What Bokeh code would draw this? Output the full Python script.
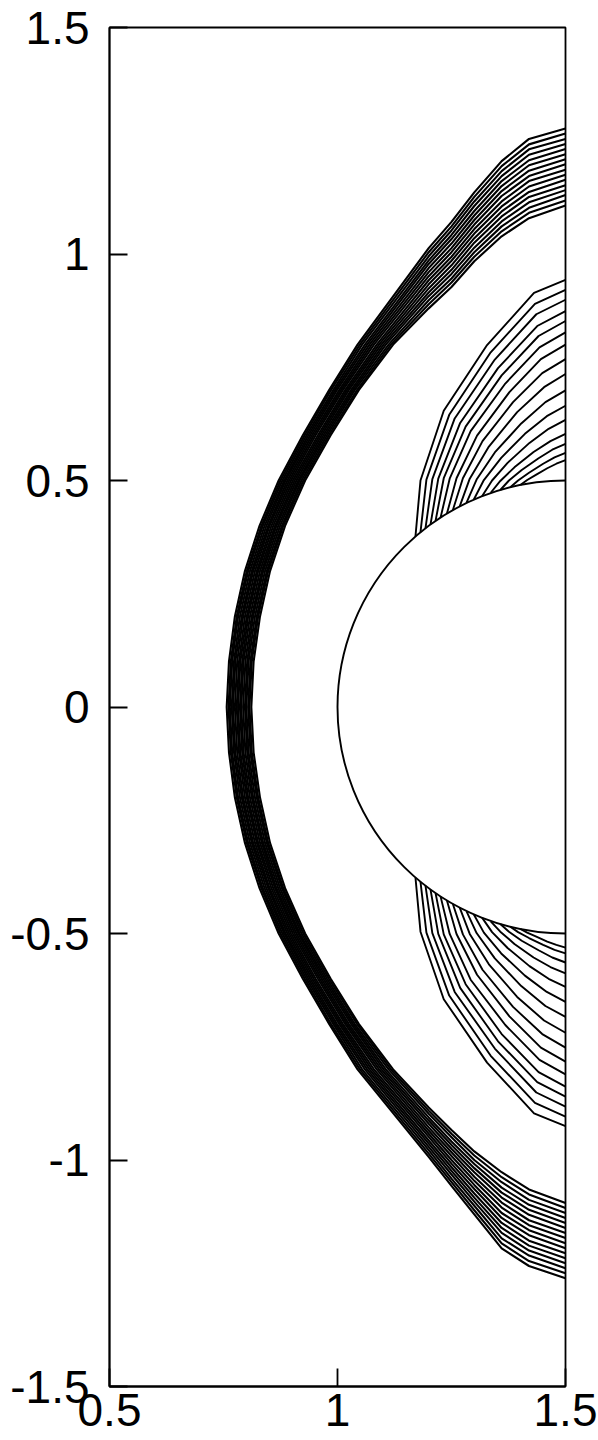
from bokeh.plotting import figure
from bokeh.models import FixedTicker, CustomJSTickFormatter, Range1d, ColumnDataSource
from bokeh.embed import file_html
from bokeh.resources import INLINE

# ---------------- data ----------------
X_TICKS = [0.5, 1.0, 1.5]
Y_TICKS = [-1.5, -1.0, -0.5, 0.0, 0.5, 1.0, 1.5]

# body: half cylinder centred at (1.5, 0), diameter 1
BODY_X = [1.5]
BODY_Y = [0.0]
BODY_D = [1.0]

# bow-shock contour band: 16 lines (outer -> inner)
# x of each line at these y stations (band symmetric about y = 0)
SHOCK_STATION_Y = [0.0, 0.1, 0.2, 0.3, 0.4, 0.5, 0.6, 0.7, 0.8]
shock_x_at_station = [
    [0.757, 0.761, 0.764, 0.768, 0.771, 0.775, 0.779, 0.782, 0.786, 0.789, 0.793, 0.797, 0.800, 0.804, 0.807, 0.811],
    [0.762, 0.766, 0.769, 0.773, 0.776, 0.780, 0.784, 0.787, 0.791, 0.794, 0.798, 0.802, 0.805, 0.809, 0.812, 0.816],
    [0.775, 0.779, 0.782, 0.786, 0.790, 0.793, 0.797, 0.801, 0.804, 0.808, 0.812, 0.815, 0.819, 0.823, 0.826, 0.830],
    [0.797, 0.801, 0.804, 0.808, 0.812, 0.815, 0.819, 0.823, 0.826, 0.830, 0.834, 0.837, 0.841, 0.845, 0.848, 0.852],
    [0.829, 0.833, 0.836, 0.840, 0.844, 0.848, 0.851, 0.855, 0.859, 0.863, 0.866, 0.870, 0.874, 0.878, 0.881, 0.885],
    [0.871, 0.875, 0.879, 0.883, 0.886, 0.890, 0.894, 0.898, 0.902, 0.906, 0.910, 0.914, 0.917, 0.921, 0.925, 0.929],
    [0.924, 0.928, 0.932, 0.936, 0.940, 0.944, 0.948, 0.952, 0.957, 0.961, 0.965, 0.969, 0.973, 0.977, 0.981, 0.985],
    [0.982, 0.986, 0.991, 0.995, 0.999, 1.004, 1.008, 1.012, 1.017, 1.021, 1.025, 1.030, 1.034, 1.038, 1.043, 1.047],
    [1.044, 1.049, 1.054, 1.060, 1.065, 1.070, 1.075, 1.080, 1.086, 1.091, 1.096, 1.101, 1.106, 1.112, 1.117, 1.122],
]
# tails of the band towards the right edge: y of each line at these x stations
SHOCK_TAIL_X = [1.2, 1.25, 1.3, 1.36, 1.42, 1.5]
shock_tail_upper_y = [
    [1.013, 1.004, 0.995, 0.986, 0.978, 0.969, 0.960, 0.951, 0.942, 0.933, 0.924, 0.915, 0.907, 0.898, 0.889, 0.880],
    [1.071, 1.061, 1.052, 1.042, 1.033, 1.023, 1.013, 1.004, 0.994, 0.985, 0.975, 0.965, 0.956, 0.946, 0.937, 0.927],
    [1.136, 1.126, 1.116, 1.106, 1.095, 1.085, 1.075, 1.065, 1.055, 1.045, 1.035, 1.025, 1.014, 1.004, 0.994, 0.984],
    [1.205, 1.194, 1.183, 1.172, 1.161, 1.150, 1.139, 1.128, 1.116, 1.105, 1.094, 1.083, 1.072, 1.061, 1.050, 1.039],
    [1.254, 1.242, 1.231, 1.219, 1.207, 1.196, 1.184, 1.172, 1.161, 1.149, 1.137, 1.126, 1.114, 1.102, 1.091, 1.079],
    [1.277, 1.266, 1.254, 1.243, 1.232, 1.220, 1.209, 1.198, 1.186, 1.175, 1.164, 1.152, 1.141, 1.130, 1.118, 1.107],
]
shock_tail_lower_y = [
    [-0.993, -0.986, -0.978, -0.971, -0.964, -0.957, -0.949, -0.942, -0.935, -0.928, -0.920, -0.913, -0.906, -0.898, -0.891, -0.884],
    [-1.057, -1.049, -1.041, -1.032, -1.024, -1.016, -1.008, -1.000, -0.991, -0.983, -0.975, -0.967, -0.959, -0.950, -0.942, -0.934],
    [-1.120, -1.111, -1.101, -1.092, -1.083, -1.074, -1.064, -1.055, -1.046, -1.037, -1.027, -1.018, -1.009, -1.000, -0.990, -0.981],
    [-1.195, -1.184, -1.173, -1.161, -1.150, -1.139, -1.128, -1.117, -1.105, -1.094, -1.083, -1.072, -1.061, -1.049, -1.038, -1.027],
    [-1.234, -1.223, -1.211, -1.200, -1.189, -1.178, -1.166, -1.155, -1.144, -1.133, -1.121, -1.110, -1.099, -1.088, -1.076, -1.065],
    [-1.261, -1.250, -1.239, -1.228, -1.217, -1.206, -1.195, -1.184, -1.172, -1.161, -1.150, -1.139, -1.128, -1.117, -1.106, -1.095],
]

# expansion-fan contours behind the shoulder (16 lines each side, outer -> inner)
FAN_X = [
    [1.171, 1.182, 1.233, 1.328, 1.431, 1.5],
    [1.182, 1.195, 1.245, 1.336, 1.433, 1.5],
    [1.193, 1.208, 1.257, 1.345, 1.436, 1.5],
    [1.204, 1.221, 1.269, 1.352, 1.438, 1.5],
    [1.215, 1.233, 1.281, 1.360, 1.441, 1.5],
    [1.226, 1.246, 1.292, 1.368, 1.443, 1.5],
    [1.240, 1.261, 1.306, 1.377, 1.446, 1.5],
    [1.253, 1.275, 1.318, 1.385, 1.449, 1.5],
    [1.268, 1.290, 1.332, 1.394, 1.453, 1.5],
    [1.283, 1.305, 1.345, 1.403, 1.456, 1.5],
    [1.299, 1.321, 1.359, 1.411, 1.459, 1.5],
    [1.317, 1.339, 1.373, 1.421, 1.463, 1.5],
    [1.336, 1.357, 1.388, 1.430, 1.467, 1.5],
    [1.357, 1.376, 1.404, 1.441, 1.471, 1.5],
    [1.379, 1.396, 1.420, 1.451, 1.476, 1.5],
    [1.401, 1.416, 1.436, 1.460, 1.480, 1.5],
]
fan_upper_y = [
    [0.377, 0.500, 0.654, 0.799, 0.914, 0.943],
    [0.386, 0.502, 0.645, 0.783, 0.890, 0.921],
    [0.395, 0.503, 0.637, 0.767, 0.867, 0.899],
    [0.403, 0.504, 0.627, 0.748, 0.841, 0.874],
    [0.411, 0.505, 0.619, 0.732, 0.819, 0.852],
    [0.418, 0.504, 0.609, 0.714, 0.794, 0.827],
    [0.427, 0.505, 0.599, 0.695, 0.768, 0.800],
    [0.435, 0.505, 0.587, 0.673, 0.737, 0.768],
    [0.443, 0.504, 0.575, 0.651, 0.706, 0.735],
    [0.451, 0.502, 0.562, 0.626, 0.673, 0.699],
    [0.458, 0.501, 0.550, 0.603, 0.642, 0.665],
    [0.465, 0.500, 0.539, 0.583, 0.614, 0.634],
    [0.473, 0.499, 0.529, 0.563, 0.587, 0.603],
    [0.479, 0.500, 0.523, 0.549, 0.568, 0.581],
    [0.485, 0.500, 0.517, 0.537, 0.551, 0.561],
    [0.490, 0.501, 0.513, 0.527, 0.537, 0.545],
]
fan_lower_y = [
    [-0.377, -0.496, -0.645, -0.785, -0.897, -0.925],
    [-0.386, -0.498, -0.637, -0.770, -0.874, -0.904],
    [-0.395, -0.499, -0.629, -0.754, -0.851, -0.882],
    [-0.403, -0.501, -0.620, -0.738, -0.828, -0.860],
    [-0.411, -0.502, -0.612, -0.722, -0.806, -0.838],
    [-0.418, -0.501, -0.602, -0.702, -0.779, -0.811],
    [-0.427, -0.501, -0.591, -0.683, -0.752, -0.783],
    [-0.435, -0.502, -0.580, -0.662, -0.722, -0.752],
    [-0.443, -0.501, -0.568, -0.640, -0.692, -0.719],
    [-0.451, -0.499, -0.555, -0.616, -0.660, -0.684],
    [-0.458, -0.498, -0.544, -0.593, -0.629, -0.651],
    [-0.465, -0.497, -0.532, -0.572, -0.600, -0.618],
    [-0.473, -0.496, -0.523, -0.553, -0.574, -0.588],
    [-0.479, -0.496, -0.516, -0.537, -0.553, -0.564],
    [-0.485, -0.497, -0.510, -0.525, -0.536, -0.544],
    [-0.490, -0.498, -0.507, -0.518, -0.525, -0.531],
]

# ---------------- assemble polylines ----------------
n_shock = len(shock_x_at_station[0])
shock_xs, shock_ys = [], []
for j in range(n_shock):
    xs, ys = [], []
    for k in range(len(SHOCK_TAIL_X) - 1, -1, -1):
        xs.append(SHOCK_TAIL_X[k]); ys.append(shock_tail_lower_y[k][j])
    for k in range(len(SHOCK_STATION_Y) - 1, 0, -1):
        xs.append(shock_x_at_station[k][j]); ys.append(-SHOCK_STATION_Y[k])
    for k in range(len(SHOCK_STATION_Y)):
        xs.append(shock_x_at_station[k][j]); ys.append(SHOCK_STATION_Y[k])
    for k in range(len(SHOCK_TAIL_X)):
        xs.append(SHOCK_TAIL_X[k]); ys.append(shock_tail_upper_y[k][j])
    shock_xs.append(xs); shock_ys.append(ys)

fan_xs = [list(r) for r in FAN_X] + [list(r) for r in FAN_X]
fan_ys = [list(r) for r in fan_upper_y] + [list(r) for r in fan_lower_y]

# ---------------- figure ----------------
p = figure(width=598, height=1440,
           x_range=Range1d(0.5, 1.5), y_range=Range1d(-1.5, 1.5),
           output_backend="svg", toolbar_location=None,
           min_border_left=109, min_border_right=33,
           min_border_top=27, min_border_bottom=54)
p.background_fill_color = "white"
p.border_fill_color = "white"
p.outline_line_color = "black"
p.outline_line_width = 1.8
p.xgrid.visible = False
p.ygrid.visible = False

for ax, ticks in ((p.xaxis[0], X_TICKS), (p.yaxis[0], Y_TICKS)):
    ax.ticker = FixedTicker(ticks=ticks)
    ax.formatter = CustomJSTickFormatter(code="return String(tick);")
    ax.major_tick_in = 18
    ax.major_tick_out = 0
    ax.minor_tick_line_color = None
    ax.major_tick_line_width = 1.8
    ax.major_tick_line_color = "black"
    ax.axis_line_color = "black"
    ax.axis_line_width = 1.8
    ax.major_label_text_font = "Liberation Sans"
    ax.major_label_text_font_size = "46px"
    ax.major_label_text_color = "black"
p.yaxis[0].major_label_standoff = 20
p.xaxis[0].major_label_standoff = 7

p.multi_line(xs="xs", ys="ys", source=ColumnDataSource(dict(xs=shock_xs, ys=shock_ys)),
             line_color="black", line_width=2.1, line_join="round")
p.multi_line(xs="xs", ys="ys", source=ColumnDataSource(dict(xs=fan_xs, ys=fan_ys)),
             line_color="black", line_width=1.9, line_join="round")
p.ellipse(x="x", y="y", width="d", height="d",
          source=ColumnDataSource(dict(x=BODY_X, y=BODY_Y, d=BODY_D)),
          fill_color=None, line_color="black", line_width=1.9)

open("out.html", "w").write(file_html(p, INLINE))
